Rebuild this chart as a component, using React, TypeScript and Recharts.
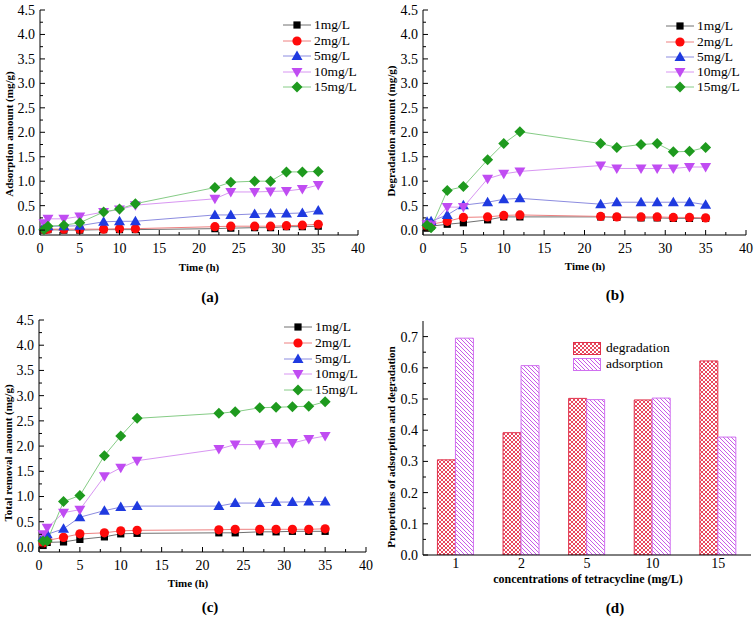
import React from "react";
import { LineChart, Line, XAxis, YAxis, BarChart, Bar } from "recharts";

const serif = "'Liberation Serif', 'Times New Roman', serif";

// sampling times (h), shared by panels a-c
const times = [0.5, 1, 3, 5, 8, 10, 12, 22, 24, 27, 29, 31, 33, 35];
const seriesNames = ["1mg/L", "2mg/L", "5mg/L", "10mg/L", "15mg/L"];

// (a) adsorption amount (mg/g)
const ads1 = [0.0, 0.01, 0.0, 0.0, 0.01, 0.01, 0.01, 0.03, 0.04, 0.05, 0.05, 0.07, 0.07, 0.08];
const ads2 = [0.01, 0.02, 0.02, 0.02, 0.02, 0.03, 0.03, 0.07, 0.08, 0.08, 0.08, 0.09, 0.1, 0.12];
const ads5 = [0.08, 0.08, 0.08, 0.09, 0.17, 0.18, 0.18, 0.31, 0.31, 0.33, 0.34, 0.34, 0.35, 0.4];
const ads10 = [0.14, 0.23, 0.23, 0.28, 0.37, 0.42, 0.51, 0.64, 0.78, 0.78, 0.79, 0.8, 0.84, 0.92];
const ads15 = [0.01, 0.08, 0.1, 0.15, 0.37, 0.43, 0.54, 0.87, 0.98, 1.0, 1.0, 1.19, 1.19, 1.2];

// (b) degradation amount (mg/g)
const deg1 = [0.04, 0.08, 0.12, 0.15, 0.21, 0.27, 0.27, 0.27, 0.26, 0.25, 0.25, 0.24, 0.24, 0.24];
const deg2 = [0.08, 0.12, 0.18, 0.26, 0.27, 0.3, 0.31, 0.28, 0.27, 0.27, 0.27, 0.26, 0.26, 0.25];
const deg5 = [0.17, 0.18, 0.31, 0.51, 0.57, 0.63, 0.65, 0.53, 0.57, 0.57, 0.57, 0.57, 0.57, 0.52];
const deg10 = [0.12, 0.1, 0.47, 0.47, 1.05, 1.15, 1.2, 1.32, 1.26, 1.26, 1.26, 1.26, 1.29, 1.29];
const deg15 = [0.1, 0.05, 0.81, 0.89, 1.44, 1.77, 2.01, 1.77, 1.69, 1.75, 1.77, 1.6, 1.61, 1.69];

// (c) total removal amount (mg/g)
const tot1 = [0.03, 0.09, 0.1, 0.15, 0.2, 0.26, 0.27, 0.28, 0.28, 0.3, 0.3, 0.31, 0.31, 0.31];
const tot2 = [0.08, 0.13, 0.19, 0.26, 0.28, 0.32, 0.33, 0.34, 0.35, 0.35, 0.35, 0.35, 0.35, 0.36];
const tot5 = [0.2, 0.25, 0.36, 0.59, 0.72, 0.79, 0.81, 0.81, 0.87, 0.87, 0.89, 0.89, 0.9, 0.9];
const tot10 = [0.25, 0.38, 0.68, 0.74, 1.4, 1.57, 1.71, 1.94, 2.03, 2.03, 2.06, 2.06, 2.14, 2.2];
const tot15 = [0.12, 0.12, 0.9, 1.02, 1.81, 2.2, 2.55, 2.65, 2.68, 2.76, 2.77, 2.78, 2.79, 2.88];

// (d) proportions
const concLabels = ["1", "2", "5", "10", "15"];
const degProp = [0.305, 0.392, 0.502, 0.497, 0.622];
const adsProp = [0.695, 0.607, 0.498, 0.503, 0.378];

const xTicks = [0, 2.5, 5, 7.5, 10, 12.5, 15, 17.5, 20, 22.5, 25, 27.5, 30, 32.5, 35, 37.5, 40];
const yTicks = [0, 0.25, 0.5, 0.75, 1, 1.25, 1.5, 1.75, 2, 2.25, 2.5, 2.75, 3, 3.25, 3.5, 3.75, 4, 4.25, 4.5];
const pTicks = [0, 0.05, 0.1, 0.15, 0.2, 0.25, 0.3, 0.35, 0.4, 0.45, 0.5, 0.55, 0.6, 0.65, 0.7];

const keys = ["c1", "c2", "c5", "c10", "c15"];
const styles = [
  { shape: "square", marker: "#000000", line: "#707070" },
  { shape: "circle", marker: "#ff0a0a", line: "#ee8080" },
  { shape: "up", marker: "#1f3ae0", line: "#8c8ce0" },
  { shape: "down", marker: "#c04cf2", line: "#d896f2" },
  { shape: "diamond", marker: "#1e9a1e", line: "#86cc86" },
];

const buildRows = (cols: number[][]) =>
  times.map((t, i) => {
    const row: any = { t };
    keys.forEach((k, j) => (row[k] = cols[j][i]));
    return row;
  });

const dataA = buildRows([ads1, ads2, ads5, ads10, ads15]);
const dataB = buildRows([deg1, deg2, deg5, deg10, deg15]);
const dataC = buildRows([tot1, tot2, tot5, tot10, tot15]);
const dataD = concLabels.map((c, i) => ({ conc: c, deg: degProp[i], ads: adsProp[i] }));

function Marker({ shape, color, cx, cy }: any) {
  const s = 5.5;
  if (shape === "square") return <rect x={cx - 3.6} y={cy - 3.6} width={7.2} height={7.2} fill={color} />;
  if (shape === "circle") return <circle cx={cx} cy={cy} r={4.6} fill={color} />;
  if (shape === "up")
    return <polygon points={`${cx},${cy - s} ${cx - s},${cy + 4} ${cx + s},${cy + 4}`} fill={color} />;
  if (shape === "down")
    return <polygon points={`${cx},${cy + s} ${cx - s},${cy - 4} ${cx + s},${cy - 4}`} fill={color} />;
  return <polygon points={`${cx},${cy - s} ${cx + s},${cy} ${cx},${cy + s} ${cx - s},${cy}`} fill={color} />;
}

const makeDot = (shape: string, color: string) => (p: any) => {
  if (p.cx == null || p.cy == null) return <g key={p.index} />;
  return <Marker key={p.index} shape={shape} color={color} cx={p.cx} cy={p.cy} />;
};

const XTick = (p: any) => {
  const v = p.payload.value;
  const major = v % 5 === 0;
  return (
    <g>
      <line x1={p.x} x2={p.x} y1={p.y} y2={p.y - (major ? 5 : 3)} stroke="#000" />
      {major && (
        <text x={p.x} y={p.y + 18} textAnchor="middle" fontSize={14} fontFamily={serif} fill="#000">
          {v}
        </text>
      )}
    </g>
  );
};

const makeYTick = (step: number) => (p: any) => {
  const v = p.payload.value;
  const major = Math.abs(v / step - Math.round(v / step)) < 1e-6;
  return (
    <g>
      <line x1={p.x} x2={p.x + (major ? 5 : 3)} y1={p.y} y2={p.y} stroke="#000" />
      {major && (
        <text x={p.x - 5} y={p.y} dy="0.35em" textAnchor="end" fontSize={14} fontFamily={serif} fill="#000">
          {v.toFixed(1)}
        </text>
      )}
    </g>
  );
};

function LinePanel({ data, width, height, margin, yWidth }: any) {
  return (
    <LineChart width={width} height={height} data={data} margin={margin}>
      <XAxis
        dataKey="t"
        type="number"
        domain={[0, 40]}
        ticks={xTicks}
        interval={0}
        height={25}
        tickSize={0}
        tickMargin={0}
        tickLine={false}
        tick={<XTick />}
        axisLine={{ stroke: "#000" }}
      />
      <YAxis
        type="number"
        domain={[-0.1, 4.5]}
        allowDataOverflow
        ticks={yTicks}
        interval={0}
        width={yWidth}
        tickSize={0}
        tickMargin={0}
        tickLine={false}
        tick={makeYTick(0.5)}
        axisLine={{ stroke: "#000" }}
      />
      <XAxis xAxisId="top" orientation="top" type="number" domain={[0, 40]} height={0} tick={false} tickLine={false} axisLine={{ stroke: "#000" }} />
      <YAxis yAxisId="right" orientation="right" type="number" domain={[0, 1]} width={0} tick={false} tickLine={false} axisLine={{ stroke: "#000" }} />
      {keys.map((k, j) => (
        <Line
          key={k}
          dataKey={k}
          type="linear"
          stroke={styles[j].line}
          strokeWidth={1}
          dot={makeDot(styles[j].shape, styles[j].marker)}
          activeDot={false}
          isAnimationActive={false}
        />
      ))}
    </LineChart>
  );
}

function LineLegend({ left, top, rows }: any) {
  return (
    <div style={{ position: "absolute", left, top, width: 0, height: 0 }}>
      {seriesNames.map((n, j) => (
        <div key={n} style={{ position: "absolute", left: 0, top: rows[j] - 8, height: 16, display: "flex", alignItems: "center", whiteSpace: "nowrap" }}>
          <svg width={28} height={16} style={{ display: "block" }}>
            <line x1={0} x2={28} y1={8} y2={8} stroke={styles[j].line} strokeWidth={1} />
            <Marker shape={styles[j].shape} color={styles[j].marker} cx={14} cy={8} />
          </svg>
          <span style={{ marginLeft: 3, fontSize: 13.5, fontFamily: serif, lineHeight: "16px" }}>{n}</span>
        </div>
      ))}
    </div>
  );
}

const Txt = ({ x, y, size = 11, rotate = false, children }: any) => (
  <div
    style={{
      position: "absolute",
      left: x,
      top: y,
      transform: `translate(-50%, -50%)${rotate ? " rotate(-90deg)" : ""}`,
      whiteSpace: "nowrap",
      fontFamily: serif,
      fontWeight: "bold",
      fontSize: size,
      lineHeight: 1,
    }}
  >
    {children}
  </div>
);

const BarXTick = (p: any) => (
  <text x={p.x} y={p.y + 13} textAnchor="middle" fontSize={14} fontFamily={serif} fill="#000">
    {p.payload.value}
  </text>
);

export default function App() {
  return (
    <div style={{ position: "absolute", left: 0, top: 0, width: 756, height: 617, background: "#fff", fontFamily: serif }}>
      <div style={{ position: "absolute", left: 0, top: 0 }}>
        <LinePanel data={dataA} width={378} height={310} yWidth={40} margin={{ top: 10, right: 20, bottom: 50, left: 0 }} />
      </div>
      <div style={{ position: "absolute", left: 378, top: 0 }}>
        <LinePanel data={dataB} width={378} height={310} yWidth={45} margin={{ top: 10, right: 10, bottom: 50, left: 0 }} />
      </div>
      <div style={{ position: "absolute", left: 0, top: 300 }}>
        <LinePanel data={dataC} width={378} height={317} yWidth={39} margin={{ top: 20, right: 12, bottom: 40, left: 0 }} />
      </div>
      <div style={{ position: "absolute", left: 378, top: 300 }}>
        <BarChart width={378} height={317} data={dataD} margin={{ top: 21, right: 5, bottom: 37, left: 0 }} barCategoryGap="22%" barGap={0}>
          <defs>
            <pattern id="pdeg" width={4} height={4} patternUnits="userSpaceOnUse">
              <rect width={4} height={4} fill="#fff" />
              <path d="M0,0 L4,4 M4,0 L0,4" stroke="#e8485e" strokeWidth={1} />
            </pattern>
            <pattern id="pads" width={4} height={4} patternUnits="userSpaceOnUse">
              <rect width={4} height={4} fill="#fff" />
              <path d="M0,0 L4,4 M-1,3 L1,5 M3,-1 L5,1" stroke="#c85ae8" strokeWidth={1} />
            </pattern>
          </defs>
          <XAxis dataKey="conc" height={25} tickLine={false} tickSize={0} tickMargin={0} tick={<BarXTick />} axisLine={{ stroke: "#000" }} interval={0} />
          <YAxis
            type="number"
            domain={[0, 0.75]}
            allowDataOverflow
            ticks={pTicks}
            interval={0}
            width={45}
            tickSize={0}
            tickMargin={0}
            tickLine={false}
            tick={makeYTick(0.1)}
            axisLine={{ stroke: "#000" }}
          />
          <XAxis xAxisId="top" dataKey="conc" orientation="top" height={0} tick={false} tickLine={false} axisLine={{ stroke: "#000" }} />
          <YAxis yAxisId="right" orientation="right" type="number" domain={[0, 1]} width={0} tick={false} tickLine={false} axisLine={{ stroke: "#000" }} />
          <Bar dataKey="deg" fill="url(#pdeg)" stroke="#e0304a" strokeWidth={1} isAnimationActive={false} />
          <Bar dataKey="ads" fill="url(#pads)" stroke="#d070f0" strokeWidth={1} isAnimationActive={false} />
        </BarChart>
      </div>

      <LineLegend left={283} top={0} rows={[25, 40.5, 56, 71.5, 87]} />
      <LineLegend left={666} top={0} rows={[26, 41.5, 57, 72, 87]} />
      <LineLegend left={284} top={300} rows={[27, 43, 59, 74, 90]} />

      {/* (d) legend */}
      <div style={{ position: "absolute", left: 573, top: 340, display: "flex", alignItems: "center" }}>
        <svg width={28} height={13} style={{ display: "block" }}>
          <rect x={0.5} y={0.5} width={27} height={12} fill="url(#pdeg)" stroke="#e0304a" />
        </svg>
        <span style={{ marginLeft: 5, fontSize: 13.5, fontFamily: serif }}>degradation</span>
      </div>
      <div style={{ position: "absolute", left: 573, top: 356, display: "flex", alignItems: "center" }}>
        <svg width={28} height={13} style={{ display: "block" }}>
          <rect x={0.5} y={0.5} width={27} height={12} fill="url(#pads)" stroke="#d070f0" />
        </svg>
        <span style={{ marginLeft: 5, fontSize: 13.5, fontFamily: serif }}>adsorption</span>
      </div>

      <Txt x={199} y={267}>Time (h)</Txt>
      <Txt x={585} y={266}>Time (h)</Txt>
      <Txt x={188} y={583}>Time (h)</Txt>
      <Txt x={588} y={579} size={12}>concentrations of tetracycline (mg/L)</Txt>

      <Txt x={9} y={134} rotate>Adsorption amount (mg/g)</Txt>
      <Txt x={391} y={131} rotate>Degradation amount (mg/g)</Txt>
      <Txt x={8} y={453} rotate>Total removal amount (mg/g)</Txt>
      <Txt x={391} y={447} rotate>Proportions of adsorption and degradation</Txt>

      <Txt x={210} y={297} size={15}>(a)</Txt>
      <Txt x={615} y={295} size={15}>(b)</Txt>
      <Txt x={210} y={607} size={15}>(c)</Txt>
      <Txt x={615} y={608} size={15}>(d)</Txt>
    </div>
  );
}
